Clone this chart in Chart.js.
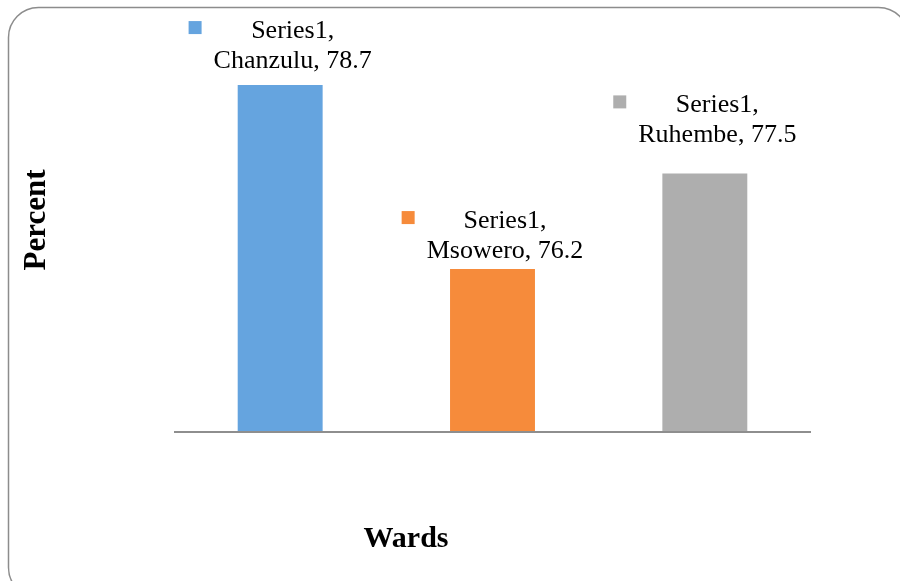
<!DOCTYPE html>
<html>
<head>
<meta charset="utf-8">
<title>Percent by ward</title>
<script src="https://cdn.jsdelivr.net/npm/chart.js@4/dist/chart.umd.min.js"></script>
<style>
  html, body { margin: 0; padding: 0; background: #ffffff; }
  #wrap { width: 900px; height: 581px; position: relative; }
</style>
</head>
<body>
<div id="wrap"><canvas id="chart" width="900" height="581"></canvas></div>
<script>
// Chart values
const wards = ['Chanzulu', 'Msowero', 'Ruhembe'];
const percent = [78.7, 76.2, 77.5];
const seriesName = 'Series1';
const axisRange = [74, 79];

// Styling
const barColors = ['#65a4df', '#f68b3b', '#aeaeae'];
const labelLift = [17, 11, 31];   // gap (px) from bar top to the label's second baseline
const serif = '"Liberation Serif", "Times New Roman", Times, serif';

// Rounded frame, axis titles and the baseline
const framePlugin = {
  id: 'frame',
  beforeDraw(chart) {
    const ctx = chart.ctx;
    ctx.save();
    ctx.fillStyle = '#ffffff';
    ctx.fillRect(0, 0, chart.width, chart.height);
    const x = 8.5, y = 7.5, w = 900, h = 590, r = 30;
    ctx.beginPath();
    ctx.moveTo(x + r, y);
    ctx.lineTo(x + w - r, y);
    ctx.arcTo(x + w, y, x + w, y + r, r);
    ctx.lineTo(x + w, y + h - r);
    ctx.arcTo(x + w, y + h, x + w - r, y + h, r);
    ctx.lineTo(x + r, y + h);
    ctx.arcTo(x, y + h, x, y + h - r, r);
    ctx.lineTo(x, y + r);
    ctx.arcTo(x, y, x + r, y, r);
    ctx.closePath();
    ctx.strokeStyle = '#8c8c8c';
    ctx.lineWidth = 1.5;
    ctx.stroke();
    ctx.restore();
  },
  afterDatasetsDraw(chart) {
    const ctx = chart.ctx;
    const area = chart.chartArea;
    const base = chart.scales.y.getPixelForValue(axisRange[0]);
    ctx.save();
    // category axis line
    ctx.strokeStyle = '#8e8e8e';
    ctx.lineWidth = 2;
    ctx.beginPath();
    ctx.moveTo(area.left, base + 1);
    ctx.lineTo(area.right, base + 1);
    ctx.stroke();

    // axis titles
    ctx.fillStyle = '#000000';
    ctx.font = 'bold 30px ' + serif;
    ctx.textAlign = 'center';
    ctx.textBaseline = 'alphabetic';
    ctx.fillText('Wards', 406, 547);
    ctx.translate(45, 220);
    ctx.rotate(-Math.PI / 2);
    ctx.font = 'bold 31px ' + serif;
    ctx.fillText('Percent', 0, 0);
    ctx.restore();
  }
};

// Data labels with legend keys above each bar
const labelPlugin = {
  id: 'barLabels',
  afterDatasetsDraw(chart) {
    const ctx = chart.ctx;
    const meta = chart.getDatasetMeta(0);
    ctx.save();
    ctx.font = '26px ' + serif;
    ctx.fillStyle = '#000000';
    ctx.textBaseline = 'alphabetic';
    ctx.textAlign = 'center';
    meta.data.forEach((bar, i) => {
      const lines = [seriesName + ',', wards[i] + ', ' + percent[i]];
      const w = Math.max(...lines.map(l => ctx.measureText(l).width));
      const key = 13, gap = 12;
      const left = bar.x - (key + gap + w) / 2;
      const textCx = left + key + gap + w / 2;
      const base2 = bar.y - labelLift[i];
      const base1 = base2 - 30;
      ctx.fillStyle = barColors[i];
      ctx.fillRect(left, base1 - 17, key, key);
      ctx.fillStyle = '#000000';
      ctx.fillText(lines[0], textCx, base1);
      ctx.fillText(lines[1], textCx, base2);
    });
    ctx.restore();
  }
};

new Chart(document.getElementById('chart'), {
  type: 'bar',
  data: {
    labels: wards,
    datasets: [{
      label: seriesName,
      data: percent,
      backgroundColor: barColors,
      borderWidth: 0,
      barPercentage: 0.4,
      categoryPercentage: 1.0
    }]
  },
  options: {
    responsive: false,
    animation: false,
    events: [],
    layout: { padding: { left: 174, right: 89, top: 63, bottom: 150 } },
    plugins: {
      legend: { display: false },
      tooltip: { enabled: false },
      title: { display: false }
    },
    scales: {
      x: { display: false },
      y: { display: false, min: axisRange[0], max: axisRange[1] }
    }
  },
  plugins: [framePlugin, labelPlugin]
});
</script>
</body>
</html>
